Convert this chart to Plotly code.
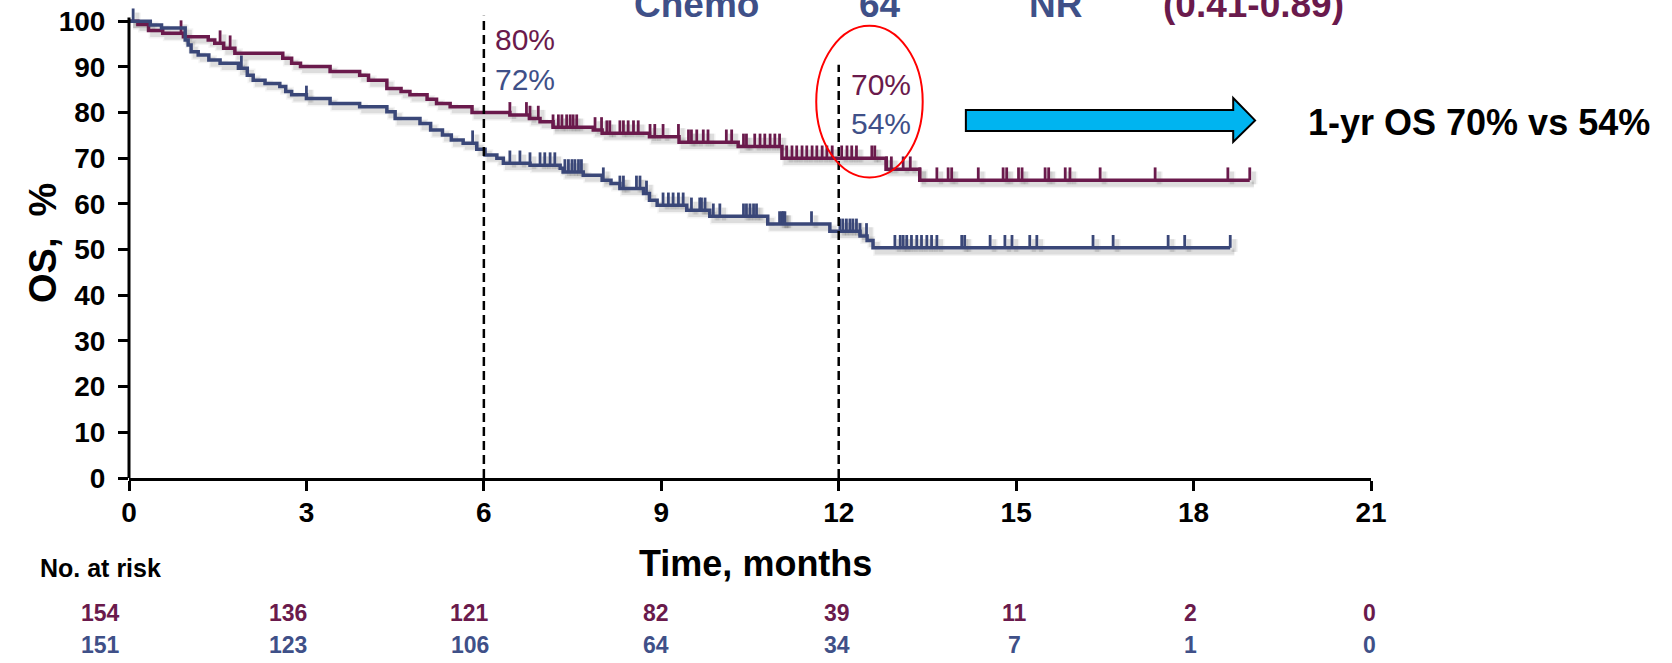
import numpy as np
import plotly.graph_objects as go

# ---------------- data ----------------
# Kaplan-Meier overall survival (%), step times in months
exp_times = [0, 0.15, 0.33, 0.57, 0.92, 1.34, 1.45, 1.60, 1.79, 2.60, 2.75, 2.90, 3.40, 3.90,
             4.05, 4.36, 4.60, 4.75, 5.04, 5.20, 5.43, 5.80, 6.44, 6.77, 6.95, 7.17, 7.85,
             8.00, 8.80, 9.30, 10.30, 11.04, 12.80, 13.37]
exp_surv = [100, 99.3, 98.0, 97.4, 96.6, 95.9, 95.2, 94.1, 93.0, 91.9, 90.8, 90.1, 89.0, 88.2,
            87.1, 85.3, 84.6, 83.9, 82.9, 82.0, 81.3, 80.0, 79.5, 78.7, 78.0, 76.8, 76.2,
            75.5, 74.7, 73.5, 72.6, 70.0, 67.6, 65.2]
exp_last = 18.95
exp_censor = [0.88, 1.54, 1.71,
              6.44, 6.72, 6.78, 6.92, 7.17, 7.26, 7.32, 7.40, 7.46, 7.51, 7.57, 7.88, 7.99,
              8.08, 8.13, 8.30, 8.36, 8.44, 8.53, 8.61, 8.81, 8.89, 9.03, 9.29, 9.46, 9.51,
              9.60, 9.71, 9.79, 10.10, 10.19, 10.39, 10.44,
              10.58, 10.67, 10.75, 10.84, 10.92, 11.00, 11.12, 11.21, 11.29, 11.38, 11.46,
              11.55, 11.63, 11.72, 11.80, 11.89, 12.05, 12.14, 12.22, 12.30, 12.56, 12.61,
              12.81, 12.89, 13.09, 13.21, 13.37,
              13.66, 13.85, 13.91, 14.36, 14.78, 14.84, 15.04, 15.10, 15.49, 15.55, 15.83,
              15.91, 16.42, 17.35, 18.58, 18.95]

chemo_times = [0, 0.36, 0.55, 0.95, 1.00, 1.05, 1.17, 1.35, 1.54, 1.85, 2.00, 2.10, 2.30,
               2.55, 2.65, 2.75, 3.00, 3.40, 3.90, 4.36, 4.50, 4.92, 5.10, 5.30, 5.45, 5.65,
               5.88, 6.02, 6.22, 6.33, 6.78, 7.29, 7.34, 7.68, 8.00, 8.15, 8.30, 8.70, 8.80,
               8.93, 9.43, 9.82, 10.80, 11.85, 12.36, 12.48, 12.58]
chemo_surv = [100, 99.2, 98.5, 95.9, 94.8, 93.3, 92.6, 91.5, 90.8, 89.7, 88.2, 87.1, 86.4,
              85.7, 84.6, 83.9, 83.1, 82.0, 81.3, 80.2, 78.7, 77.6, 76.2, 75.1, 74.0, 73.3,
              72.0, 70.7, 70.0, 68.9, 68.5, 67.8, 67.0, 66.3, 65.2, 64.5, 63.4, 62.3, 60.8,
              59.7, 58.6, 57.3, 55.6, 54.0, 53.0, 52.0, 50.4]
chemo_last = 18.62
chemo_censor = [0.07, 1.90, 3.00, 5.81,
                6.44, 6.61, 6.78, 6.95, 7.03, 7.12, 7.20, 7.37, 7.43, 7.49, 7.54, 7.60, 7.65,
                8.02, 8.30, 8.36, 8.58, 8.64, 8.75, 9.03, 9.12, 9.20, 9.29, 9.37, 9.51, 9.65,
                9.68, 9.74, 9.88, 9.99, 10.39, 10.44,
                10.50, 10.56, 10.61, 11.00, 11.04, 11.06, 11.09, 11.54, 12.02, 12.07, 12.13,
                12.19, 12.24, 12.30, 12.36, 12.47,
                12.95, 13.04, 13.09, 13.15, 13.23, 13.32, 13.40, 13.49, 13.57, 13.66, 14.08,
                14.13, 14.56, 14.81, 14.93, 15.23, 15.35, 16.30, 16.64, 17.57, 17.85, 18.62]

# landmark estimates
landmark_months = [6, 12]
exp_landmark = [80, 70]
chemo_landmark = [72, 54]

# numbers at risk
risk_months = [0, 3, 6, 9, 12, 15, 18, 21]
exp_at_risk = [154, 136, 121, 82, 39, 11, 2, 0]
chemo_at_risk = [151, 123, 106, 64, 34, 7, 1, 0]

# header row (median OS / HR), partly outside the page
header_cells = ["Chemo", "64", "NR", "(0.41-0.89)"]

x_ticks = [0, 3, 6, 9, 12, 15, 18, 21]
y_ticks = list(range(0, 101, 10))

# ---------------- style ----------------
MAROON = "#6A1A4C"
NAVY = "#3A4778"
NAVY_TXT = "#3F5088"
FONT = "Liberation Sans, Arial, sans-serif"
W, H = 1672, 663
ML, MR, MT, MB = 129, 301, 3, 185
PW, PH = W - ML - MR, H - MT - MB


def px_x(px):
    return (px - ML) / PW


def px_y(py):
    return (H - MB - py) / PH


def surv_at(times, surv, t):
    i = np.searchsorted(np.asarray(times), t, side="right") - 1
    return surv[i]


def step_xy(times, surv, last):
    return list(times) + [last], list(surv) + [surv[-1]]


def censor_xy(times, surv, cens, height=2.8):
    xs, ys = [], []
    for t in cens:
        s = surv_at(times, surv, t)
        xs += [t, t, None]
        ys += [s, s + height, None]
    return xs, ys


fig = go.Figure()

arms = [
    (exp_times, exp_surv, exp_last, exp_censor, MAROON, "Experimental"),
    (chemo_times, chemo_surv, chemo_last, chemo_censor, NAVY, "Chemo"),
]

# soft drop shadows below the curves
for times, surv, last, cens, color, name in arms:
    sx, sy = step_xy(times, surv, last)
    cx, cy = censor_xy(times, surv, cens)
    for w, a in [(8, 0.06), (5, 0.12)]:
        fig.add_trace(go.Scatter(
            x=[v + 0.07 for v in sx], y=[v - 0.9 for v in sy], mode="lines",
            line=dict(color=f"rgba(60,60,60,{a})", width=w, shape="hv"),
            hoverinfo="skip", showlegend=False))
        fig.add_trace(go.Scatter(
            x=[None if v is None else v + 0.07 for v in cx],
            y=[None if v is None else v - 0.9 for v in cy], mode="lines",
            line=dict(color=f"rgba(60,60,60,{a})", width=w - 1),
            hoverinfo="skip", showlegend=False))

for times, surv, last, cens, color, name in arms:
    sx, sy = step_xy(times, surv, last)
    fig.add_trace(go.Scatter(x=sx, y=sy, mode="lines", name=name,
                             line=dict(color=color, width=3.5, shape="hv"),
                             showlegend=False))
    cx, cy = censor_xy(times, surv, cens)
    fig.add_trace(go.Scatter(x=cx, y=cy, mode="lines", name=name + " censored",
                             line=dict(color=color, width=2.8),
                             showlegend=False, hoverinfo="skip"))

shapes = []
# y axis line (stops just above 100)
shapes.append(dict(type="line", xref="paper", yref="y", x0=0, x1=0, y0=0, y1=100.8,
                   line=dict(color="black", width=3)))
# landmark dashed verticals
for m, top in zip(landmark_months, [101.2, 90.5]):
    shapes.append(dict(type="line", xref="x", yref="y", x0=m, x1=m, y0=0, y1=top,
                       line=dict(color="black", width=2.5, dash="9px,5px")))
# red ellipse around 12-month estimates
shapes.append(dict(type="circle", xref="x", yref="y", x0=11.62, x1=13.42, y0=65.8, y1=99.0,
                   line=dict(color="#FF0000", width=2)))
# blue block arrow
ax0, ax1, atip = 14.15, 18.67, 19.04
ay_top, ay_bot, ah_top, ah_bot = 80.6, 76.0, 83.2, 73.6
amid = (ay_top + ay_bot) / 2
shapes.append(dict(
    type="path", xref="x", yref="y",
    path=(f"M {ax0},{ay_top} L {ax1},{ay_top} L {ax1},{ah_top} L {atip},{amid} "
          f"L {ax1},{ah_bot} L {ax1},{ay_bot} L {ax0},{ay_bot} Z"),
    fillcolor="#00B4F0", line=dict(color="black", width=2)))

ann = []
# landmark labels
for m, e, c, xo in zip(landmark_months, exp_landmark, chemo_landmark, [0.15, 0.17]):
    ye = 96.0 if m == 6 else 86.2
    yc = 87.2 if m == 6 else 77.6
    ann.append(dict(x=m + xo, y=ye, xref="x", yref="y", text=f"{e}%", showarrow=False,
                    xanchor="left", yanchor="middle",
                    font=dict(family=FONT, size=30, color=MAROON)))
    ann.append(dict(x=m + xo, y=yc, xref="x", yref="y", text=f"{c}%", showarrow=False,
                    xanchor="left", yanchor="middle",
                    font=dict(family=FONT, size=30, color=NAVY_TXT)))

ann.append(dict(x=px_x(1306), y=px_y(122), xref="paper", yref="paper",
                text=f"1-yr OS {exp_landmark[1]}% vs {chemo_landmark[1]}%",
                showarrow=False, xanchor="left", yanchor="middle",
                font=dict(family=FONT, size=36, color="black", weight="bold")))

# header cells cut by the top edge
for txt, cx, col in zip(header_cells, [696, 880, 1055, 1253],
                        [NAVY_TXT, NAVY_TXT, NAVY_TXT, MAROON]):
    ann.append(dict(x=px_x(cx), y=px_y(5), xref="paper", yref="paper", text=txt,
                    showarrow=False, xanchor="center", yanchor="middle",
                    font=dict(family=FONT, size=37, color=col, weight="bold")))

# axis titles
ann.append(dict(x=px_x(755), y=px_y(563), xref="paper", yref="paper",
                text="Time, months", showarrow=False, xanchor="center", yanchor="middle",
                font=dict(family=FONT, size=36, color="black", weight="bold")))
ann.append(dict(x=px_x(43), y=px_y(243), xref="paper", yref="paper",
                text="OS,&nbsp; %", textangle=-90, showarrow=False,
                xanchor="center", yanchor="middle",
                font=dict(family=FONT, size=38, color="black", weight="bold")))

# numbers at risk table
ann.append(dict(x=px_x(38), y=px_y(568), xref="paper", yref="paper",
                text="No. at risk", showarrow=False, xanchor="left", yanchor="middle",
                font=dict(family=FONT, size=25, color="black", weight="bold")))
risk_shift = [-29, -18, -14, -5, -2, -2, -3, -2]
for m, a, c, sh in zip(risk_months, exp_at_risk, chemo_at_risk, risk_shift):
    ann.append(dict(x=m, y=px_y(613), xref="x", yref="paper", text=str(a), xshift=sh,
                    showarrow=False, xanchor="center", yanchor="middle",
                    font=dict(family=FONT, size=23, color=MAROON, weight="bold")))
    ann.append(dict(x=m, y=px_y(645), xref="x", yref="paper", text=str(c), xshift=sh,
                    showarrow=False, xanchor="center", yanchor="middle",
                    font=dict(family=FONT, size=23, color=NAVY_TXT, weight="bold")))

fig.update_layout(
    width=W, height=H, autosize=False,
    margin=dict(l=ML, r=MR, t=MT, b=MB, pad=0),
    paper_bgcolor="white", plot_bgcolor="white",
    showlegend=False, shapes=shapes, annotations=ann,
    xaxis=dict(range=[0, 21], tickvals=x_ticks, ticktext=[str(v) for v in x_ticks],
               showgrid=False, zeroline=False, showline=True, linecolor="black",
               linewidth=3, ticks="outside", ticklen=10, tickwidth=3, tickcolor="black",
               ticklabelstandoff=-3,
               tickfont=dict(family=FONT, size=28, color="black", weight="bold")),
    yaxis=dict(range=[0, 104], tickvals=y_ticks, ticktext=[str(v) for v in y_ticks],
               showgrid=False, zeroline=False, showline=False,
               ticks="outside", ticklen=10, tickwidth=3, tickcolor="black",
               ticklabelstandoff=7,
               tickfont=dict(family=FONT, size=28, color="black", weight="bold")),
)

fig.write_html("out.html")
